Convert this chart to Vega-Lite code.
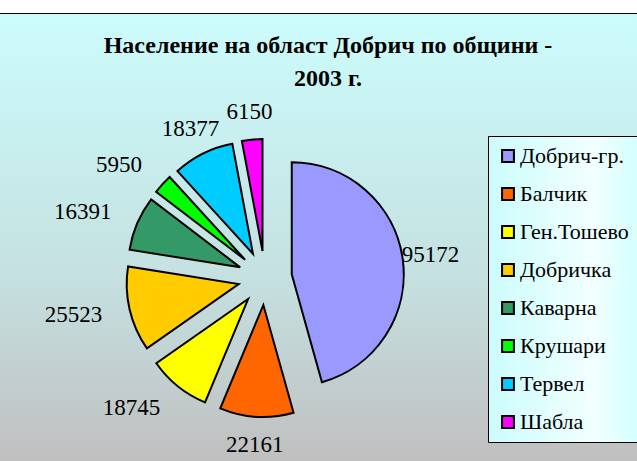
{
  "$schema": "https://vega.github.io/schema/vega-lite/v6.json",
  "width": 744,
  "height": 530,
  "autosize": {"type": "none"},
  "padding": {"left": -107, "top": 13, "right": 0, "bottom": 0},
  "background": "white",
  "config": {
    "legend": {"labelFont": "Liberation Serif", "labelFontSize": 22, "labelColor": "black"},
    "text": {"font": "Liberation Serif"}
  },
  "view": {
    "fill": {"gradient": "linear", "x1": 0, "y1": 0, "x2": 0, "y2": 1,
      "stops": [
        {"offset": 0, "color": "#ccfcfc"},
        {"offset": 0.5, "color": "#c5e0e0"},
        {"offset": 0.84, "color": "#c0c0c0"},
        {"offset": 1, "color": "#c0c0c0"}
      ]},
    "stroke": "black",
    "strokeWidth": 1
  },
  "title": {
    "text": ["Население на област Добрич по общини -", "2003 г."],
    "font": "Liberation Serif",
    "fontSize": 24,
    "fontWeight": "bold",
    "color": "black",
    "anchor": "middle",
    "frame": "group",
    "offset": -78,
    "dx": 63,
    "lineHeight": 33
  },
  "data": {
    "values": [
      {"name": "Добрич-гр.", "pop": 95172, "n": 1},
      {"name": "Балчик", "pop": 22161, "n": 2},
      {"name": "Ген.Тошево", "pop": 18745, "n": 3},
      {"name": "Добричка", "pop": 25523, "n": 4},
      {"name": "Каварна", "pop": 16391, "n": 5},
      {"name": "Крушари", "pop": 5950, "n": 6},
      {"name": "Тервел", "pop": 18377, "n": 7},
      {"name": "Шабла", "pop": 6150, "n": 8}
    ]
  },
  "encoding": {
    "theta": {"field": "pop", "type": "quantitative", "stack": true},
    "order": {"field": "n", "type": "quantitative"},
    "color": {
      "field": "name",
      "type": "nominal",
      "scale": {
        "domain": ["Добрич-гр.", "Балчик", "Ген.Тошево", "Добричка", "Каварна", "Крушари", "Тервел", "Шабла"],
        "range": ["#9999ff", "#ff6600", "#ffff00", "#ffcc00", "#339966", "#00ff00", "#00ccff", "#ff00ff"]
      },
      "legend": {
        "title": null,
        "orient": "none",
        "legendX": 595,
        "legendY": 123,
        "symbolType": "square",
        "symbolSize": 140,
        "symbolStrokeColor": "black",
        "symbolStrokeWidth": 2,
        "labelFont": "Liberation Serif",
        "labelFontSize": 22,
        "labelColor": "black",
        "labelOffset": 1,
        "labelLimit": 200,
        "rowPadding": 16,
        "padding": 9,
        "strokeColor": "black",
        "fillColor": "#dcfcfc",
        "encode": {
          "legend": {
            "update": {
              "fill": {"value": {"gradient": "linear", "x1": 0, "y1": 0, "x2": 1, "y2": 0,
                "stops": [
                  {"offset": 0, "color": "#ccfcfc"},
                  {"offset": 0.7, "color": "#f2ffff"},
                  {"offset": 1, "color": "#d4ffff"}
                ]}}
            }
          }
        }
      }
    }
  },
  "layer": [
    {
      "mark": {
        "type": "arc",
        "radius": 112,
        "stroke": "black",
        "strokeWidth": 2,
        "xOffset": {"expr": "27*sin((scale('theta', datum.pop_start) + scale('theta', datum.pop_end))/2)"},
        "yOffset": {"expr": "-27*cos((scale('theta', datum.pop_start) + scale('theta', datum.pop_end))/2)"}
      }
    },
    {
      "mark": {
        "type": "text",
        "radius": 140,
        "font": "Liberation Serif",
        "fontSize": 23,
        "align": {"expr": "((scale('theta', datum.pop_start) + scale('theta', datum.pop_end))/2) > 3.5 && ((scale('theta', datum.pop_start) + scale('theta', datum.pop_end))/2) < 5.6 ? 'right' : 'center'"},
        "xOffset": {"expr": "27*sin((scale('theta', datum.pop_start) + scale('theta', datum.pop_end))/2)"},
        "yOffset": {"expr": "-27*cos((scale('theta', datum.pop_start) + scale('theta', datum.pop_end))/2)"}
      },
      "encoding": {
        "text": {"field": "pop", "type": "quantitative", "format": "d"},
        "color": {"value": "black"}
      }
    }
  ]
}
